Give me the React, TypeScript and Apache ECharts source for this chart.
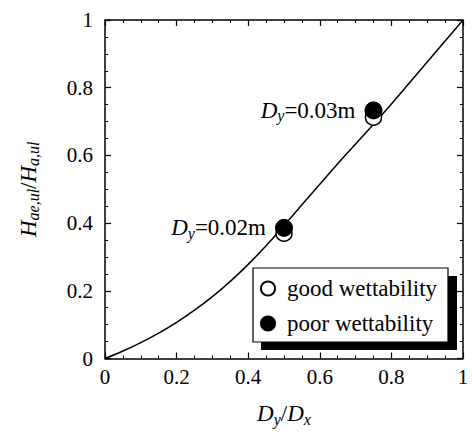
import React, { useEffect, useRef } from "react";
import * as echarts from "echarts";

const curveX = [0, 0.05, 0.1, 0.15, 0.2, 0.25, 0.3, 0.35, 0.4, 0.45, 0.5, 0.55, 0.6, 0.65, 0.7, 0.75, 0.8, 0.85, 0.9, 0.95, 1];
const curveY = [0, 0.022, 0.047, 0.075, 0.107, 0.143, 0.183, 0.228, 0.278, 0.333, 0.393, 0.454, 0.515, 0.575, 0.634, 0.692, 0.752, 0.814, 0.876, 0.938, 1];

const goodX = [0.5, 0.75];
const goodY = [0.37, 0.713];
const poorX = [0.5, 0.75];
const poorY = [0.386, 0.733];
const dyLabels = ["0.02m", "0.03m"];

const seriesNames = ["good wettability", "poor wettability"];

const FONT = "'Liberation Serif', 'DejaVu Serif', serif";

export default function App() {
  const ref = useRef<HTMLDivElement>(null);
  useEffect(() => {
    document.body.style.margin = "0";
    const chart = echarts.init(ref.current!, null, { renderer: "svg" });

    const richBase = {
      i: { fontFamily: FONT, fontStyle: "italic", fontSize: 23, color: "#000", lineHeight: 26 },
      s: { fontFamily: FONT, fontStyle: "italic", fontSize: 16, color: "#000", lineHeight: 26, padding: [11, 0, 0, 0] },
      n: { fontFamily: FONT, fontSize: 23, color: "#000", lineHeight: 26 },
    };

    const axisCommon = {
      type: "value",
      min: 0,
      max: 1,
      interval: 0.2,
      axisLine: { show: true, onZero: false, lineStyle: { color: "#000", width: 1.5 } },
      axisTick: { show: true, inside: true, length: 6, lineStyle: { color: "#000", width: 1.2 } },
      minorTick: { show: true, splitNumber: 4, length: 3, lineStyle: { color: "#000", width: 1 } },
      splitLine: { show: false },
    };

    chart.setOption({
      animation: false,
      backgroundColor: "#fff",
      textStyle: { fontFamily: FONT },
      grid: { left: 105, right: 9, top: 20, bottom: 67, containLabel: false },
      xAxis: [
        {
          ...axisCommon,
          position: "bottom",
          axisLabel: { show: true, fontFamily: FONT, fontSize: 21, color: "#000", margin: 8 },
          name: "{i|D}{s|y}{n|/}{i|D}{s|x}",
          nameLocation: "middle",
          nameGap: 42,
          nameTextStyle: { rich: richBase },
        },
        {
          ...axisCommon,
          position: "top",
          axisLabel: { show: false },
        },
      ],
      yAxis: [
        {
          ...axisCommon,
          position: "left",
          axisLabel: { show: true, fontFamily: FONT, fontSize: 21, color: "#000", margin: 12 },
          name: "{i|H}{s|ae,ul}{n|/}{i|H}{s|a,ul}",
          nameLocation: "middle",
          nameGap: 64,
          nameRotate: 90,
          nameTextStyle: { rich: richBase },
        },
        {
          ...axisCommon,
          position: "right",
          axisLabel: { show: false },
        },
      ],
      legend: {
        data: seriesNames,
        orient: "vertical",
        left: 258,
        top: 275,
        padding: 2,
        itemGap: 12,
        itemWidth: 14,
        itemHeight: 14,
        icon: "circle",
        z: 20,
        textStyle: { fontFamily: FONT, fontSize: 23, color: "#000", padding: [0, 0, 0, 7] },
      },
      graphic: [
        { type: "rect", z: 10, shape: { x: 261, y: 276, width: 196, height: 74 }, style: { fill: "#000" } },
        { type: "rect", z: 11, shape: { x: 253, y: 268, width: 195, height: 74 }, style: { fill: "#fff", stroke: "#000", lineWidth: 1.2 } },
      ],
      series: [
        {
          type: "line",
          name: "curve",
          xAxisIndex: 0,
          yAxisIndex: 0,
          data: curveX.map((x, i) => [x, curveY[i]]),
          smooth: 0.4,
          showSymbol: false,
          lineStyle: { color: "#000", width: 1.5 },
          z: 2,
        },
        {
          type: "scatter",
          name: seriesNames[0],
          xAxisIndex: 0,
          yAxisIndex: 0,
          data: goodX.map((x, i) => [x, goodY[i]]),
          symbol: "circle",
          symbolSize: 16,
          itemStyle: { color: "#fff", borderColor: "#000", borderWidth: 1.5, opacity: 1 },
          z: 3,
        },
        {
          type: "scatter",
          name: seriesNames[1],
          xAxisIndex: 0,
          yAxisIndex: 0,
          data: poorX.map((x, i) => [x, poorY[i]]),
          symbol: "circle",
          symbolSize: 17,
          itemStyle: { color: "#000", borderColor: "#000", borderWidth: 1, opacity: 1 },
          z: 4,
          label: {
            show: true,
            position: "left",
            distance: 9,
            formatter: (p: any) => `{i|D}{s|y}{n|=${dyLabels[p.dataIndex]}}`,
            rich: richBase,
          },
        },
      ],
    });
    return () => chart.dispose();
  }, []);
  return <div ref={ref} style={{ width: 472, height: 432 }} />;
}
